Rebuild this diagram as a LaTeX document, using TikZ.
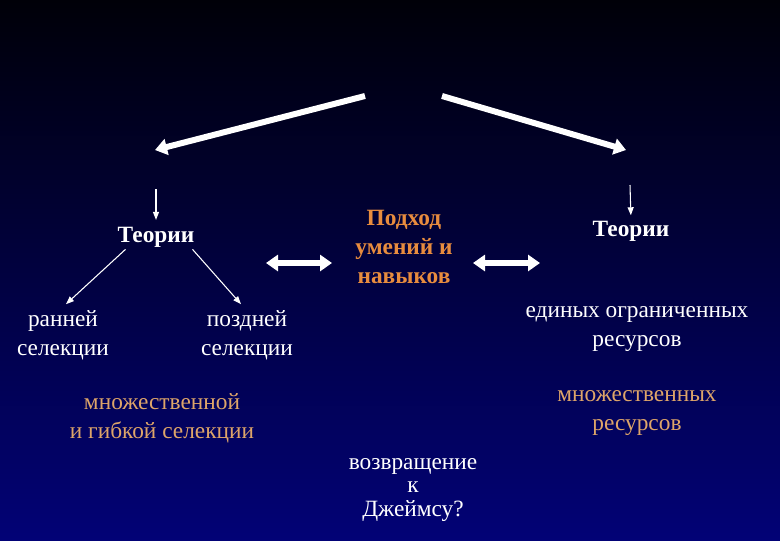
\documentclass[tikz,border=0pt]{standalone}
\usepackage{fontspec}
\setmainfont{Liberation Serif}
\usepackage{xcolor}
\usepackage{tikz}
\usetikzlibrary{arrows.meta,positioning,calc}

\definecolor{bgtop}{RGB}{0,0,8}
\definecolor{bgbot}{RGB}{2,2,118}
\definecolor{skill}{RGB}{232,140,62}
\definecolor{multi}{RGB}{222,165,105}

\begin{document}
\begin{tikzpicture}[x=0.75pt, y=-0.75pt,
    txt/.style={text=white, align=center, inner sep=0pt, font=\fontsize{17.5}{21.5}\selectfont},
    head/.style={txt, font=\bfseries\fontsize{17.5}{21.5}\selectfont},
    big/.style={white, line width=4.5pt, -{Triangle[width=12pt,length=9pt]}},
    twin/.style={white, line width=4pt, {Triangle[width=12pt,length=9pt]}-{Triangle[width=12pt,length=9pt]}},
    thin/.style={white, line width=0.8pt, -{Triangle[width=4.5pt,length=6pt]}}]
    % Background
    \shade[top color=bgtop, bottom color=bgbot] (0,0) rectangle (780,540);
    \useasboundingbox (0,0) rectangle (780,540);

    % Headings
    \node[head] (lt) at (156,237) {Теории};
    \node[head] (rt) at (631,231) {Теории};
    \node[head, text=skill] (skl) at (404,247) {Подход\\умений и\\навыков};

    % Branches
    \node[txt] (early) at (63,335) {ранней\\селекции};
    \node[txt] (late) at (247,335) {поздней\\селекции};
    \node[txt] (single) at (637,329) {единых ограниченных\\ресурсов};
    \node[txt, text=multi] (mres) at (637,413) {множественных\\ресурсов};
    \node[txt, text=multi] (flex) at (162,418) {множественной\\и гибкой селекции};
    \node[txt, font=\fontsize{17.5}{17.5}\selectfont] (james) at (413,490) {возвращение\\к\\Джеймсу?};

    % Free ends
    \coordinate (topl) at (365,96);
    \coordinate (topr) at (442,96);
    \coordinate (endl) at (155,150);
    \coordinate (endr) at (626,150);
    \coordinate (lt0) at (156,189);
    \coordinate (rt0) at (630,185);
    \coordinate (dl1) at (266,263);
    \coordinate (dl2) at (332,263);
    \coordinate (dr1) at (473,263);
    \coordinate (dr2) at (540,263);

    % Arrows
    \draw[big] (topl) -- (endl);
    \draw[big] (topr) -- (endr);
    \draw[thin, shorten >=5pt] (lt0) -- (lt.north);
    \draw[thin, shorten >=4pt] (rt0) -- (rt.north);
    \draw[thin] ($(lt.south west)+(8,2)$) -- ($(early.north)+(3,-6)$);
    \draw[thin] ($(lt.south east)+(-2,2)$) -- ($(late.north)+(-6,-6)$);
    \draw[twin] (dl1) -- (dl2);
    \draw[twin] (dr1) -- (dr2);
\end{tikzpicture}
\end{document}
